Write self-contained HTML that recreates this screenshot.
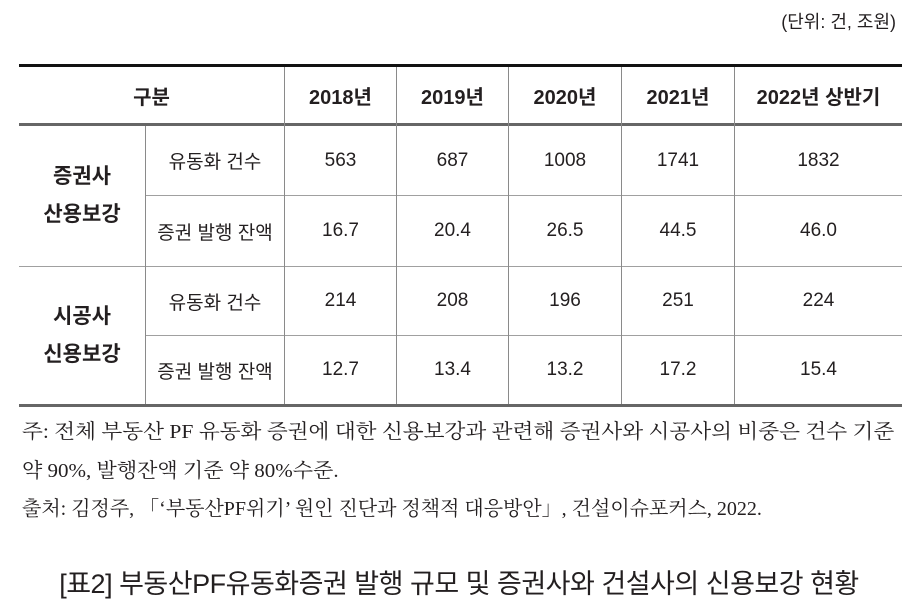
<!DOCTYPE html>
<html><head><meta charset="utf-8"><style>
body{margin:0;width:918px;height:601px;background:#fff;position:relative;overflow:hidden;font-family:"Liberation Sans","Noto Sans CJK KR",sans-serif;color:#231f20}
.a{position:absolute}
.c{position:absolute;display:flex;align-items:center;justify-content:center;text-align:center}
.h{font-size:20px;font-weight:bold}
.d{font-size:19px}
.g{font-size:21px;font-weight:bold;line-height:38px}
.vl{position:absolute;width:1px;background:#8a8a8a}
.hl{position:absolute;height:1px;background:#a0a0a0}
.n{position:absolute;left:22px;font-family:"Liberation Serif","Noto Serif CJK SC",serif;font-size:20px;white-space:nowrap;transform-origin:left center}
</style></head><body>
<div class="a" style="right:22px;top:8px;font-size:18px">(단위: 건, 조원)</div>
<div>
<div class="a" style="left:19px;top:64px;width:883px;height:3px;background:#111"></div>
<div class="a" style="left:19px;top:123px;width:883px;height:3px;background:#666"></div>
<div class="a" style="left:19px;top:404px;width:883px;height:3px;background:#666"></div>
<div class="hl" style="left:145px;top:195px;width:757px"></div>
<div class="hl" style="left:19px;top:266px;width:883px"></div>
<div class="hl" style="left:145px;top:335px;width:757px"></div>
<div class="vl" style="left:145px;top:126px;height:278px"></div>
<div class="vl" style="left:284px;top:67px;height:337px"></div>
<div class="vl" style="left:396px;top:67px;height:337px"></div>
<div class="vl" style="left:508px;top:67px;height:337px"></div>
<div class="vl" style="left:621px;top:67px;height:337px"></div>
<div class="vl" style="left:734px;top:67px;height:337px"></div>

<div class="c h" style="left:19px;top:67px;width:265px;height:56px">구분</div>
<div class="c h" style="left:285px;top:67px;width:111px;height:56px">2018년</div>
<div class="c h" style="left:397px;top:67px;width:111px;height:56px">2019년</div>
<div class="c h" style="left:509px;top:67px;width:112px;height:56px">2020년</div>
<div class="c h" style="left:622px;top:67px;width:112px;height:56px">2021년</div>
<div class="c h" style="left:735px;top:67px;width:167px;height:56px">2022년 상반기</div>

<div class="c g" style="left:19px;top:126px;width:126px;height:140px">증권사<br>산용보강</div>
<div class="c g" style="left:19px;top:267px;width:126px;height:137px">시공사<br>신용보강</div>

<div class="c d" style="left:146px;top:126px;width:138px;height:69px">유동화 건수</div>
<div class="c d" style="left:146px;top:196px;width:138px;height:70px">증권 발행 잔액</div>
<div class="c d" style="left:146px;top:267px;width:138px;height:68px">유동화 건수</div>
<div class="c d" style="left:146px;top:336px;width:138px;height:68px">증권 발행 잔액</div>
<div id="cells"></div>
</div>

<div class="n" style="top:415px;transform:scaleX(1.08)">주: 전체 부동산 PF 유동화 증권에 대한 신용보강과 관련해 증권사와 시공사의 비중은 건수 기준</div>
<div class="n" style="top:454px;transform:scaleX(1.05)">약 90%, 발행잔액 기준 약 80%수준.</div>
<div class="n" style="top:492px;transform:scaleX(1.0)">출처: 김정주, 「‘부동산PF위기’ 원인 진단과 정책적 대응방안」, 건설이슈포커스, 2022.</div>
<div class="a" style="left:0;width:918px;top:562px;text-align:center;font-size:27px;letter-spacing:-0.5px">[표2] 부동산PF유동화증권 발행 규모 및 증권사와 건설사의 신용보강 현황</div>

<script>
const secCount=["563","687","1008","1741","1832"];
const secAmount=["16.7","20.4","26.5","44.5","46.0"];
const conCount=["214","208","196","251","224"];
const conAmount=["12.7","13.4","13.2","17.2","15.4"];
const rows=[secCount,secAmount,conCount,conAmount];
const colL=[285,397,509,622,735],colR=[396,508,621,734,902];
const rowT=[126,196,267,336],rowB=[195,266,335,404];
const host=document.getElementById('cells');
rows.forEach((r,i)=>r.forEach((v,j)=>{
 const el=document.createElement('div');
 el.className='c d';
 
 
 el.style.left=colL[j]+'px';el.style.width=(colR[j]-colL[j])+'px';
 el.style.top=rowT[i]+'px';el.style.height=(rowB[i]-rowT[i])+'px';
 el.textContent=v;host.appendChild(el);
}));
</script>
</body></html>
